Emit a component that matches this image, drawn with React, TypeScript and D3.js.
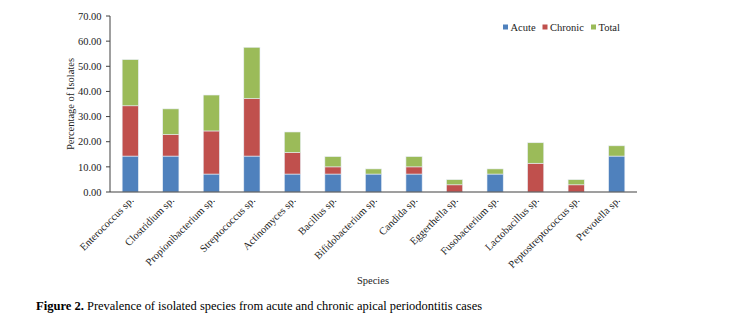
import React from "react";
import * as d3 from "d3";

const categories = [
  "Enterococcus sp.", "Clostridium sp.", "Propionibacterium sp.", "Streptococcus sp.",
  "Actinomyces sp.", "Bacillus sp.", "Bifidobacterium sp.", "Candida sp.",
  "Eggerthella sp.", "Fusobacterium sp.", "Lactobacillus sp.", "Peptostreptococcus sp.",
  "Prevotella sp.",
];
const acute = [14.29, 14.29, 7.14, 14.29, 7.14, 7.14, 7.14, 7.14, 0, 7.14, 0, 0, 14.29];
const chronic = [20.0, 8.57, 17.14, 22.86, 8.57, 2.86, 0, 2.86, 2.86, 0, 11.43, 2.86, 0];
const total = [18.37, 10.2, 14.29, 20.41, 8.16, 4.08, 2.04, 4.08, 2.04, 2.04, 8.16, 2.04, 4.08];
const seriesKeys = ["Acute", "Chronic", "Total"];
const seriesColors = ["#4F81BD", "#C0504D", "#9BBB59"];
const yTicks = [0, 10, 20, 30, 40, 50, 60, 70];

export default function App() {
  const W = 739, H = 330;
  const x0 = 110, x1 = 637, yTop = 16, yBot = 192;
  const x = d3.scaleBand<string>().domain(categories).range([x0, x1]).paddingInner(0.6).paddingOuter(0.3);
  const y = d3.scaleLinear().domain([0, 70]).range([yBot, yTop]);
  const rows = categories.map((c, i) => ({ cat: c, Acute: acute[i], Chronic: chronic[i], Total: total[i] }));
  const stacked = d3.stack<any>().keys(seriesKeys)(rows);
  const font = "'Liberation Serif', 'Times New Roman', serif";
  const band = d3.scaleBand<string>().domain(categories).range([x0, x1]);
  const legendItems = [
    { k: "Acute", sx: 503, tx: 510.5 },
    { k: "Chronic", sx: 542.5, tx: 550 },
    { k: "Total", sx: 591, tx: 598.5 },
  ];
  return (
    <svg width={W} height={H} style={{ position: "absolute", left: 0, top: 0, background: "#fff" }} fontFamily={font}>
      {stacked.map((s, si) => (
        <g key={s.key} fill={seriesColors[si]}>
          {s.map((d, i) =>
            d[1] - d[0] > 0 ? (
              <rect key={i} x={x(categories[i])} width={x.bandwidth()} y={y(d[1])} height={y(d[0]) - y(d[1])}
                stroke="#e8eef6" strokeWidth={0.6} />
            ) : null
          )}
        </g>
      ))}
      {/* y axis */}
      <line x1={x0} x2={x0} y1={yTop} y2={yBot} stroke="#404040" strokeWidth={1} />
      {yTicks.map((t) => (
        <g key={t}>
          <line x1={x0 - 4} x2={x0} y1={y(t)} y2={y(t)} stroke="#404040" strokeWidth={1} />
          <text x={x0 - 8.5} y={y(t)} dy="0.35em" textAnchor="end" fontSize={10.5} fill="#222">
            {t.toFixed(2)}
          </text>
        </g>
      ))}
      {/* x axis */}
      <line x1={x0} x2={x1} y1={yBot} y2={yBot} stroke="#404040" strokeWidth={1.2} />
      {categories.map((c) => {
        const cx = (band(c) as number) + band.bandwidth() / 2 + 4;
        const cy = yBot + 9;
        return (
          <text key={c} transform={`translate(${cx},${cy}) rotate(-45)`} textAnchor="end" fontSize={10.5} fill="#222">
            {c}
          </text>
        );
      })}
      <text transform={`translate(74,104) rotate(-90)`} textAnchor="middle" fontSize={10.5} fill="#222">
        Percentage of Isolates
      </text>
      <text x={373} y={283.5} textAnchor="middle" fontSize={10.5} fill="#222">Species</text>
      {legendItems.map((l, i) => (
        <g key={l.k}>
          <rect x={l.sx} y={24.5} width={5} height={5} fill={seriesColors[i]} />
          <text x={l.tx} y={27} dy="0.35em" fontSize={10.5} fill="#222">{l.k}</text>
        </g>
      ))}
      <text x={36} y={310} fontSize={12} fill="#000" fontWeight="bold" textLength={48} lengthAdjust="spacingAndGlyphs">
        Figure 2.
      </text>
      <text x={87} y={310} fontSize={12} fill="#000" textLength={395} lengthAdjust="spacingAndGlyphs">
        Prevalence of isolated species from acute and chronic apical periodontitis cases
      </text>
    </svg>
  );
}
